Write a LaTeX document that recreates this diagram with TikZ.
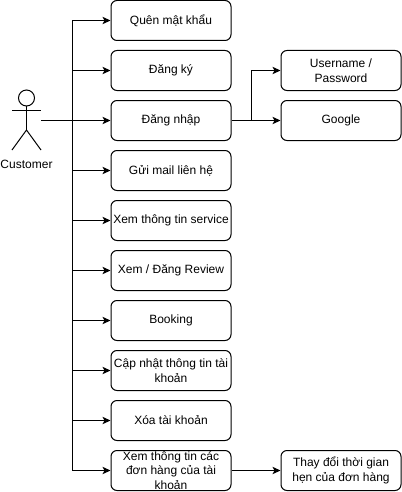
\documentclass[tikz,border=0pt]{standalone}
\usepackage{fontspec}
\setmainfont{Liberation Sans}
\usetikzlibrary{arrows.meta}
\tikzset{
    usecase/.style={draw,rounded corners=4.5pt,minimum width=90pt,minimum height=30pt,inner sep=0pt,align=center,font=\fontsize{9}{11}\selectfont},
    flow/.style={-{Stealth[length=6pt,width=5.5pt,inset=1.5pt]}},
}
\begin{document}
\begin{tikzpicture}[x=0.75pt,y=-0.75pt,line width=0.75pt]
    \useasboundingbox (0,0) rectangle (402,492);

    % Actor
    \draw (26.5,98) circle (8);
    \draw (26.5,106) -- (26.5,130);
    \draw (12,110) -- (41,110);
    \draw (12,150) -- (26.5,130) -- (41,150);
    \node[font=\fontsize{9}{11}\selectfont] (customer) at (26.5,164) {Customer};
    \coordinate (actor) at (41,120.5);
    \coordinate (trunk) at (72,120.5);

    % Use cases
    \node[usecase] (quenmk) at (171,20.5) {Quên mật khẩu};
    \node[usecase] (dangky) at (171,70.5) {Đăng ký};
    \node[usecase] (dangnhap) at (171,120.5) {Đăng nhập};
    \node[usecase] (guimail) at (171,170.5) {Gửi mail liên hệ};
    \node[usecase] (service) at (171,220.5) {Xem thông tin service};
    \node[usecase] (review) at (171,270.5) {Xem / Đăng Review};
    \node[usecase] (booking) at (171,320.5) {Booking};
    \node[usecase] (capnhat) at (171,370.5) {Cập nhật thông tin tài\\khoản};
    \node[usecase] (xoatk) at (171,420.5) {Xóa tài khoản};
    \node[usecase] (donhang) at (171,470.5) {Xem thông tin các\\đơn hàng của tài\\khoản};

    % Right column
    \node[usecase] (username) at (341,70.5) {Username /\\Password};
    \node[usecase] (google) at (341,120.5) {Google};
    \node[usecase] (thaydoi) at (341,470.5) {Thay đổi thời gian\\hẹn của đơn hàng};

    % Connectors
    \draw[flow] (actor) -- (dangnhap);
    \foreach \target in {quenmk,dangky,guimail,service,review,booking,capnhat,xoatk,donhang}
        \draw[flow] (trunk) |- (\target);
    \draw[flow] (dangnhap) -- (google);
    \coordinate (branch) at (251,120.5);
    \draw[flow] (branch) |- (username);
    \draw[flow] (donhang) -- (thaydoi);
\end{tikzpicture}
\end{document}
